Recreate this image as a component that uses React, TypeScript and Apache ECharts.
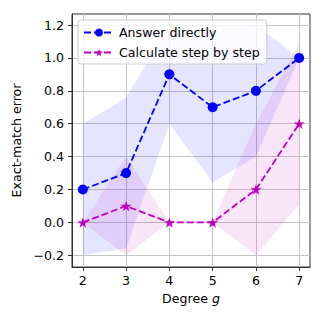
import React, { useEffect, useRef } from "react";
import * as echarts from "echarts";

const degrees = [2, 3, 4, 5, 6, 7];
const directMean = [0.2, 0.3, 0.9, 0.7, 0.8, 1.0];
const directLower = [-0.2, -0.158, 0.6, 0.242, 0.4, 1.0];
const directUpper = [0.6, 0.758, 1.2, 1.158, 1.2, 1.0];
const stepMean = [0.0, 0.1, 0.0, 0.0, 0.2, 0.6];
const stepLower = [0.0, -0.2, 0.0, 0.0, -0.2, 0.11];
const stepUpper = [0.0, 0.4, 0.0, 0.0, 0.6, 1.09];
const yTicks = [-0.2, 0.0, 0.2, 0.4, 0.6, 0.8, 1.0, 1.2];
const xTicks = [2, 3, 4, 5, 6, 7];

const STAR =
  "path://M50,0L61.2,34.5L97.6,34.5L68.2,55.9L79.4,90.5L50,69.1L20.6,90.5L31.8,55.9L2.4,34.5L38.8,34.5Z";

const FONT = "DejaVu Sans";
const FS = 12.6;

function bandSeries(lower: number[], upper: number[], color: string) {
  return {
    type: "custom",
    silent: true,
    z: 1,
    data: degrees.map((d, i) => [d, lower[i], upper[i]]),
    encode: { x: 0, y: [1, 2] },
    renderItem: (params: any, api: any) => {
      if (params.dataIndex !== 0) return null;
      const pts: number[][] = [];
      degrees.forEach((d, i) => pts.push(api.coord([d, upper[i]])));
      for (let i = degrees.length - 1; i >= 0; i--) pts.push(api.coord([degrees[i], lower[i]]));
      return {
        type: "polygon",
        shape: { points: pts },
        style: { fill: color, stroke: "none" },
      };
    },
  };
}

export default function App() {
  const ref = useRef<HTMLDivElement>(null);
  useEffect(() => {
    const chart = echarts.init(ref.current!, null, { renderer: "svg" });
    const fmt = (v: number) => (v < -1e-9 ? "\u2212" : "") + Math.abs(v).toFixed(1);
    chart.setOption({
      animation: false,
      textStyle: { fontFamily: FONT },
      grid: {
        left: 72,
        top: 14,
        width: 238,
        height: 253,
        show: true,
        borderColor: "#333",
        borderWidth: 1,
        backgroundColor: "transparent",
      },
      legend: {
        orient: "vertical",
        left: 78,
        top: 20,
        padding: [6, 7, 5, 5],
        itemGap: 7,
        itemWidth: 30,
        itemHeight: 10,
        backgroundColor: "rgba(255,255,255,0.8)",
        borderColor: "#cccccc",
        borderWidth: 1,
        borderRadius: 3,
        textStyle: { fontFamily: FONT, fontSize: FS, color: "#000" },
        data: ["Answer directly", "Calculate step by step"],
      },
      xAxis: {
        type: "value",
        min: 1.75,
        max: 7.25,
        name: "Degree {i|g}",
        nameLocation: "middle",
        nameGap: 24,
        nameTextStyle: {
          fontFamily: FONT,
          fontSize: FS,
          color: "#000",
          rich: { i: { fontFamily: FONT, fontSize: FS, fontStyle: "italic", color: "#000" } },
        },
        axisLine: { show: true, onZero: false, lineStyle: { color: "#333", width: 1 } },
        axisTick: { show: true, length: 4, customValues: xTicks, lineStyle: { color: "#333" } },
        axisLabel: {
          customValues: xTicks,
          margin: 7,
          fontFamily: FONT,
          fontSize: FS,
          color: "#000",
          formatter: (v: number) => String(v),
        },
        splitLine: { show: true, lineStyle: { color: "#c4c4c4", width: 1 } },
      },
      yAxis: {
        type: "value",
        min: -0.271,
        max: 1.267,
        name: "Exact-match error",
        nameLocation: "middle",
        nameGap: 43,
        nameTextStyle: { fontFamily: FONT, fontSize: FS, color: "#000" },
        axisLine: { show: true, onZero: false, lineStyle: { color: "#333", width: 1 } },
        axisTick: { show: true, length: 4, customValues: yTicks, lineStyle: { color: "#333" } },
        axisLabel: {
          customValues: yTicks,
          margin: 8,
          fontFamily: FONT,
          fontSize: FS,
          color: "#000",
          formatter: fmt,
        },
        splitLine: { show: true, lineStyle: { color: "#c4c4c4", width: 1 } },
      },
      series: [
        bandSeries(directLower, directUpper, "rgba(0,0,255,0.1)"),
        bandSeries(stepLower, stepUpper, "rgba(191,0,191,0.1)"),
        {
          name: "Answer directly",
          type: "line",
          z: 3,
          data: degrees.map((d, i) => [d, directMean[i]]),
          symbol: "circle",
          symbolSize: 10,
          itemStyle: { color: "#0000ff" },
          lineStyle: { color: "#0000ff", width: 1.8, type: [7, 3] },
        },
        {
          name: "Calculate step by step",
          type: "line",
          z: 4,
          data: degrees.map((d, i) => [d, stepMean[i]]),
          symbol: STAR,
          symbolSize: 11,
          symbolKeepAspect: true,
          itemStyle: { color: "#bf00bf" },
          lineStyle: { color: "#bf00bf", width: 1.8, type: [7, 3] },
        },
      ],
    });
    return () => chart.dispose();
  }, []);
  return (
    <div
      ref={ref}
      style={{ position: "fixed", left: 0, top: 0, width: 324, height: 324, background: "#fff" }}
    />
  );
}
